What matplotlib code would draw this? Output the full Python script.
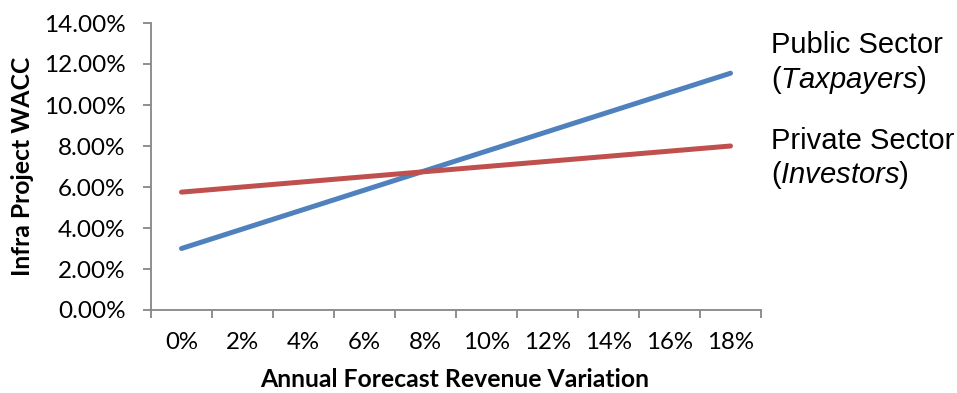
import numpy as np
import matplotlib.pyplot as plt
from matplotlib.ticker import FixedLocator, NullFormatter, FixedFormatter

plt.rcParams['font.family'] = ['Lato', 'DejaVu Sans']
plt.rcParams['mathtext.fontset'] = 'custom'
plt.rcParams['mathtext.rm'] = 'Liberation Sans'
plt.rcParams['mathtext.it'] = 'Liberation Sans:italic'

# 데이터
categories = ["0%", "2%", "4%", "6%", "8%", "10%", "12%", "14%", "16%", "18%"]
public_wacc = [3.00, 3.95, 4.90, 5.85, 6.80, 7.75, 8.70, 9.65, 10.60, 11.55]
private_wacc = [5.75, 6.00, 6.25, 6.50, 6.75, 7.00, 7.25, 7.50, 7.75, 8.00]
y_ticks = [0, 2, 4, 6, 8, 10, 12, 14]

W, H = 957, 393
fig = plt.figure(figsize=(W / 100, H / 100), dpi=100)
ax = fig.add_axes([151 / W, 1 - 310 / H, 610 / W, 287 / H])

x = np.arange(len(categories)) + 0.5
ax.plot(x, public_wacc, color='#4F81BD', lw=3.6, solid_capstyle='round')
ax.plot(x, private_wacc, color='#C0504D', lw=3.6, solid_capstyle='round')

ax.set_xlim(0, len(categories))
ax.set_ylim(0, 14)

axis_col = '#868686'
for s in ['top', 'right']:
    ax.spines[s].set_visible(False)
for s in ['left', 'bottom']:
    ax.spines[s].set_color(axis_col)
    ax.spines[s].set_linewidth(1.3)

ax.set_yticks(y_ticks)
ax.set_yticklabels([f"{v:.2f}%" for v in y_ticks])
ax.tick_params(axis='y', length=5.8, width=1.3, color=axis_col, labelsize=17.5, pad=12.5)

# 카테고리 경계 눈금 + 가운데 라벨
ax.xaxis.set_major_locator(FixedLocator(np.arange(len(categories) + 1)))
ax.xaxis.set_major_formatter(NullFormatter())
ax.xaxis.set_minor_locator(FixedLocator(x))
ax.xaxis.set_minor_formatter(FixedFormatter(categories))
ax.tick_params(axis='x', which='major', length=5.8, width=1.3, color=axis_col)
ax.tick_params(axis='x', which='minor', length=0, labelsize=17.3, pad=16)

fig.text(23 / W, 1 - 166 / H, "Infra Project WACC", rotation=90, ha='center', va='center',
         fontsize=17.8, fontweight='bold')
fig.text(455 / W, 1 - 387 / H, "Annual Forecast Revenue Variation", ha='center', va='baseline',
         fontsize=17.8, fontweight='bold')

# 오른쪽 라벨
lab = dict(fontsize=21, family='Liberation Sans', va='baseline', ha='left')
lx = 771 / W
fig.text(lx, 1 - 53 / H, "Public Sector", **lab)
fig.text(lx, 1 - 88 / H, r"($\mathit{Taxpayers}$)", **lab)
fig.text(lx, 1 - 149 / H, "Private Sector", **lab)
fig.text(lx, 1 - 183 / H, r"($\mathit{Investors}$)", **lab)

fig.savefig("out.png", dpi=100)
